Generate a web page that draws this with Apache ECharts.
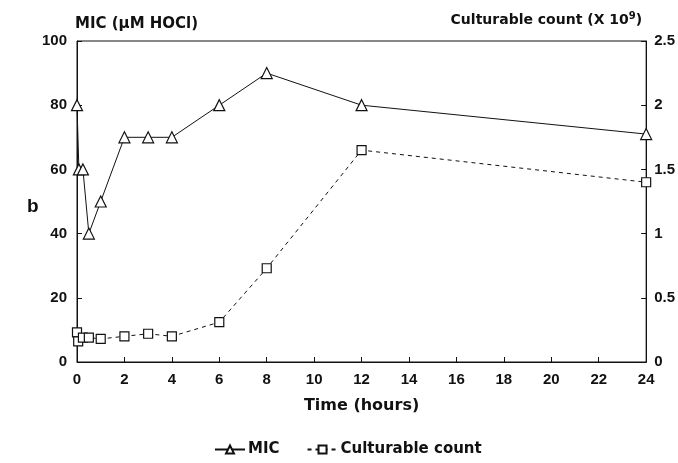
<!DOCTYPE html>
<html>
<head>
<meta charset="utf-8">
<script src="https://cdn.jsdelivr.net/npm/echarts@6/dist/echarts.min.js"></script>
<style>
  html, body { margin: 0; padding: 0; background: #fff; }
  #chart { width: 678px; height: 463px; }
</style>
</head>
<body>
<div id="chart"></div>
<script>
// values
const micTimes = [0, 0.08, 0.25, 0.5, 1, 2, 3, 4, 6, 8, 12, 24]
const micValues = [80, 60, 60, 40, 50, 70, 70, 70, 80, 90, 80, 71]
const countTimes = [0, 0.05, 0.25, 0.5, 1, 2, 3, 4, 6, 8, 12, 24]
const countValues = [0.23, 0.16, 0.19, 0.19, 0.18, 0.2, 0.22, 0.2, 0.31, 0.73, 1.65, 1.4]

const FONT = 'Liberation Sans, Arial, sans-serif'
const WIDE = 'DejaVu Sans, sans-serif'
const INK = '#111'

const chart = echarts.init(document.getElementById('chart'))

const labelStyle = { color: INK, fontSize: 15, fontWeight: 'bold', fontFamily: FONT }

chart.setOption({
  animation: false,
  backgroundColor: '#fff',
  textStyle: { fontFamily: FONT },
  title: {
    text: 'b', left: 22, top: 192,
    textStyle: { color: INK, fontSize: 19, fontWeight: 'bold', fontFamily: FONT },
  },
  grid: { left: 77, right: 30, top: 41, bottom: 101, show: true, borderColor: INK, borderWidth: 1 },
  legend: {
    left: 209, top: 437, itemWidth: 30, itemHeight: 10, itemGap: 27,
    textStyle: { color: INK, fontSize: 15, fontWeight: 'bold', fontFamily: WIDE, padding: [0, 0, 0, -2] },
    data: ['MIC', 'Culturable count'],
  },
  xAxis: {
    type: 'value', min: 0, max: 24, interval: 2,
    name: 'Time (hours)', nameLocation: 'middle', nameGap: 36,
    nameTextStyle: { color: INK, fontSize: 16, fontWeight: 'bold', fontFamily: WIDE },
    axisLine: { lineStyle: { color: INK, width: 1 } },
    axisTick: { inside: true, length: 5, lineStyle: { color: INK } },
    axisLabel: { ...labelStyle, margin: 10 },
    splitLine: { show: false },
  },
  yAxis: [
    {
      type: 'value', min: 0, max: 100, interval: 20, position: 'left',
      name: 'MIC (μM HOCl)', nameLocation: 'end', nameGap: 9,
      nameTextStyle: { color: INK, fontSize: 15, fontWeight: 'bold', fontFamily: WIDE, align: 'left', padding: [0, 0, 0, -2] },
      axisLine: { show: true, lineStyle: { color: INK, width: 1 } },
      axisTick: { show: true, inside: true, length: 5, lineStyle: { color: INK } },
      axisLabel: { ...labelStyle, margin: 10 },
      splitLine: { show: false },
    },
    {
      type: 'value', min: 0, max: 2.5, interval: 0.5, position: 'right',
      name: 'Culturable count (X 10{s|9})', nameLocation: 'end', nameGap: 12,
      nameTextStyle: {
        color: INK, fontSize: 14, fontWeight: 'bold', fontFamily: WIDE, align: 'right', padding: [0, 4, 0, 0],
        rich: { s: { fontSize: 10, fontWeight: 'bold', fontFamily: WIDE, color: INK, verticalAlign: 'top', padding: [0, 0, 8, 0] } },
      },
      axisLine: { show: true, lineStyle: { color: INK, width: 1 } },
      axisTick: { show: true, inside: true, length: 5, lineStyle: { color: INK } },
      axisLabel: { ...labelStyle, margin: 8 },
      splitLine: { show: false },
    },
  ],
  series: [
    {
      name: 'MIC', type: 'line', yAxisIndex: 0,
      data: micTimes.map((t, i) => [t, micValues[i]]),
      symbol: 'triangle', symbolSize: 11, showAllSymbol: true,
      lineStyle: { color: INK, width: 1 },
      itemStyle: { color: '#fff', borderColor: INK, borderWidth: 1.2 },
    },
    {
      name: 'Culturable count', type: 'line', yAxisIndex: 1,
      data: countTimes.map((t, i) => [t, countValues[i]]),
      symbol: 'rect', symbolSize: 9, showAllSymbol: true,
      lineStyle: { color: INK, width: 1, type: [4, 4] },
      itemStyle: { color: '#fff', borderColor: INK, borderWidth: 1.2 },
    },
  ],
})
</script>
</body>
</html>
